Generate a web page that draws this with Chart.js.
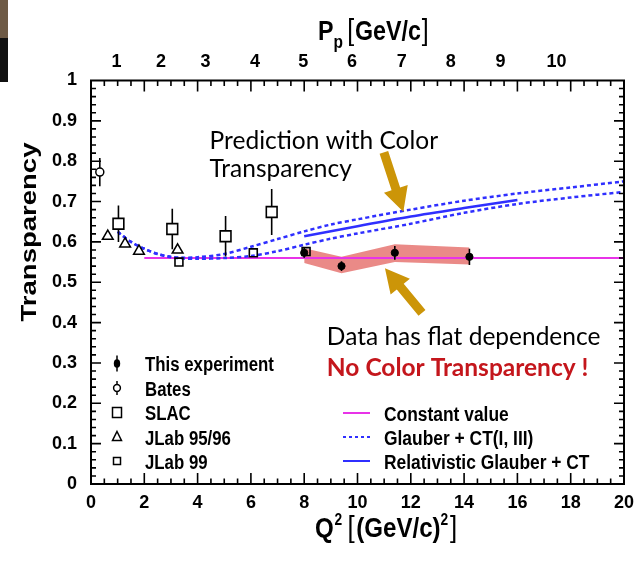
<!DOCTYPE html>
<html lang="en">
<head>
<meta charset="UTF-8">
<title>Transparency vs Q2</title>
<script src="https://cdn.jsdelivr.net/npm/chart.js"></script>
<style>
  html, body { margin: 0; padding: 0; background: #fff; }
  #wrap { position: relative; width: 644px; height: 561px; }
  .edge1 { position: absolute; left: 0; top: 0; width: 8px; height: 38px; background: #6e5a45; }
  .edge2 { position: absolute; left: 0; top: 38px; width: 8px; height: 44px; background: #111; }
</style>
</head>
<body>
<div id="wrap">
  <canvas id="chart" width="644" height="561"></canvas>
  <div class="edge1"></div>
  <div class="edge2"></div>
</div>
<script>
// values
const pTickLabels = ['1', '2', '3', '4', '5', '6', '7', '8', '9', '10'];
const pTickQ2 = [0.96, 2.63, 4.30, 6.15, 7.96, 9.79, 11.66, 13.50, 15.37, 17.47];

const expQ2 = [8.0, 9.4, 11.4, 14.2];
const expT = [0.573, 0.540, 0.573, 0.563];
const expErr = [0.012, 0.012, 0.017, 0.020];
const bandHigh = [0.584, 0.563, 0.594, 0.586];
const bandLow = [0.548, 0.522, 0.550, 0.544];

const batesQ2 = [0.33];
const batesT = [0.773];
const batesErr = [0.035];

const slacQ2 = [1.03, 3.05, 5.05, 6.78];
const slacT = [0.645, 0.632, 0.614, 0.674];
const slacErr = [0.045, 0.050, 0.050, 0.057];

const jlab96Q2 = [0.63, 1.28, 1.80, 3.25];
const jlab96T = [0.614, 0.595, 0.577, 0.580];

const jlab99Q2 = [3.30, 6.09, 8.07];
const jlab99T = [0.550, 0.573, 0.576];

const constQ2 = [2, 20];
const constT = [0.56, 0.56];

const glauberQ2 = [1.0, 1.5, 2.0, 2.5, 3.0, 3.5, 4.0, 5.0, 6.0, 7.0, 8.0, 9.0, 10, 12, 14, 16, 18, 20];
const glauberCT1 = [0.625, 0.600, 0.583, 0.570, 0.563, 0.561, 0.562, 0.570, 0.588, 0.607, 0.626, 0.643, 0.656, 0.680, 0.702, 0.720, 0.735, 0.750];
const glauberCT3 = [0.625, 0.600, 0.583, 0.570, 0.562, 0.559, 0.558, 0.560, 0.565, 0.577, 0.593, 0.608, 0.621, 0.645, 0.672, 0.694, 0.710, 0.724];

const relQ2 = [8, 10, 12, 14, 16];
const relT = [0.614, 0.639, 0.663, 0.684, 0.704];

const BLUE = '#2f2fff';
const MAGENTA = '#e833e8';
const GOLD = '#cc9508';
const TICKFONT = '"Liberation Sans", Arial, sans-serif';
const NOTEFONT = 'Lato, "Open Sans", sans-serif';

function pts(xs, ys) {
    return xs.map((x, i) => ({ x: x, y: ys[i] }));
}

const datasets = [
    { label: 'This experiment', data: pts(expQ2, expT), pointStyle: 'circle', pointRadius: 3.6,
      backgroundColor: '#000', borderColor: '#000', borderWidth: 1 },
    { label: 'JLab 99', data: pts(jlab99Q2, jlab99T), pointStyle: 'rect', pointRadius: 5.6,
      backgroundColor: 'rgba(0,0,0,0)', borderColor: '#000', borderWidth: 1.6 },
    { label: 'JLab 95/96', data: pts(jlab96Q2, jlab96T), pointStyle: 'triangle', pointRadius: 6.2,
      backgroundColor: 'rgba(0,0,0,0)', borderColor: '#000', borderWidth: 1.5 },
    { label: 'SLAC', data: pts(slacQ2, slacT), pointStyle: 'rect', pointRadius: 7.6,
      backgroundColor: 'rgba(0,0,0,0)', borderColor: '#000', borderWidth: 1.6 },
    { label: 'Bates', data: pts(batesQ2, batesT), pointStyle: 'circle', pointRadius: 4,
      backgroundColor: 'rgba(0,0,0,0)', borderColor: '#000', borderWidth: 1.5 },
    { label: 'Relativistic Glauber + CT', data: pts(relQ2, relT), showLine: true, pointRadius: 0,
      borderColor: BLUE, borderWidth: 2.5, tension: 0.3 },
    { label: 'Glauber + CT(I, III)', data: pts(glauberQ2, glauberCT1), showLine: true, pointRadius: 0,
      borderColor: BLUE, borderWidth: 2.5, borderDash: [4, 3], tension: 0.3 },
    { label: 'Glauber + CT(I, III) b', data: pts(glauberQ2, glauberCT3), showLine: true, pointRadius: 0,
      borderColor: BLUE, borderWidth: 2.5, borderDash: [4, 3], tension: 0.3 },
    { label: 'Constant value', data: pts(constQ2, constT), showLine: true, pointRadius: 0,
      borderColor: MAGENTA, borderWidth: 2 },
    { label: 'band high', data: pts(expQ2, bandHigh), showLine: true, pointRadius: 0,
      borderWidth: 0, borderColor: 'rgba(0,0,0,0)', backgroundColor: 'rgba(230,118,114,0.85)', fill: '+1' },
    { label: 'band low', data: pts(expQ2, bandLow), showLine: true, pointRadius: 0,
      borderWidth: 0, borderColor: 'rgba(0,0,0,0)', fill: false }
];

// error bars: dataset index, errors, gap left around the marker
const errorBars = [
    { ds: 0, err: expErr, gap: 0 },
    { ds: 3, err: slacErr, gap: 5.4 },
    { ds: 4, err: batesErr, gap: 4 }
];

const notes = [
    { text: 'Prediction with Color', q2: 4.45, t: 0.829, color: '#000', bold: false },
    { text: 'Transparency', q2: 4.45, t: 0.761, color: '#000', bold: false },
    { text: 'Data has flat dependence', q2: 8.85, t: 0.344, color: '#000', bold: false },
    { text: 'No Color Transparency !', q2: 8.85, t: 0.267, color: '#c4161c', bold: true }
];
const arrows = [
    { from: [10.99, 0.822], to: [11.72, 0.675] },
    { from: [12.42, 0.424], to: [11.03, 0.535] }
];

function drawArrow(ctx, x0, y0, x1, y1, shaft, headW, headL) {
    const ang = Math.atan2(y1 - y0, x1 - x0);
    const len = Math.hypot(x1 - x0, y1 - y0);
    ctx.save();
    ctx.translate(x0, y0);
    ctx.rotate(ang);
    ctx.beginPath();
    ctx.moveTo(0, -shaft / 2);
    ctx.lineTo(len - headL, -shaft / 2);
    ctx.lineTo(len - headL, -headW / 2);
    ctx.lineTo(len, 0);
    ctx.lineTo(len - headL, headW / 2);
    ctx.lineTo(len - headL, shaft / 2);
    ctx.lineTo(0, shaft / 2);
    ctx.closePath();
    ctx.fill();
    ctx.restore();
}

// draw a run of [text, font, dy, gap] pieces, squeezed horizontally by sx
function drawPieces(ctx, x, y, pieces, sx) {
    ctx.save();
    ctx.translate(x, y);
    ctx.scale(sx, 1);
    ctx.textBaseline = 'alphabetic';
    ctx.textAlign = 'left';
    let cx = 0;
    pieces.forEach(p => {
        ctx.font = p[1];
        ctx.fillText(p[0], cx, p[2]);
        cx += ctx.measureText(p[0]).width + (p[3] || 0);
    });
    ctx.restore();
}

const overlay = {
    id: 'overlay',
    afterDatasetsDraw(chart) {
        const ctx = chart.ctx;
        const xs = chart.scales.x, ys = chart.scales.y;
        ctx.save();
        ctx.strokeStyle = '#000';
        ctx.lineWidth = 1.6;
        errorBars.forEach(eb => {
            chart.data.datasets[eb.ds].data.forEach((p, i) => {
                const px = xs.getPixelForValue(p.x);
                const py = ys.getPixelForValue(p.y);
                const top = ys.getPixelForValue(p.y + eb.err[i]);
                const bot = ys.getPixelForValue(p.y - eb.err[i]);
                ctx.beginPath();
                ctx.moveTo(px, top); ctx.lineTo(px, py - eb.gap);
                ctx.moveTo(px, py + eb.gap); ctx.lineTo(px, bot);
                ctx.stroke();
            });
        });
        ctx.restore();
    },
    afterDraw(chart) {
        const ctx = chart.ctx;
        const a = chart.chartArea;
        const xs = chart.scales.x, ys = chart.scales.y;
        ctx.save();

        // frame with inward ticks
        ctx.strokeStyle = '#000';
        ctx.lineWidth = 2;
        ctx.strokeRect(a.left, a.top, a.right - a.left, a.bottom - a.top);
        ctx.lineWidth = 1.6;
        ctx.beginPath();
        for (let i = 1; i < 40; i++) {
            const px = xs.getPixelForValue(i * 0.5);
            const len = i % 4 === 0 ? 11 : 5.5;
            ctx.moveTo(px, a.bottom); ctx.lineTo(px, a.bottom - len);
            ctx.moveTo(px, a.top); ctx.lineTo(px, a.top + len);
        }
        for (let i = 1; i < 50; i++) {
            const py = ys.getPixelForValue(i * 0.02);
            const len = i % 5 === 0 ? 10 : 5;
            ctx.moveTo(a.left, py); ctx.lineTo(a.left + len, py);
            ctx.moveTo(a.right, py); ctx.lineTo(a.right - len, py);
        }
        ctx.stroke();

        // axis titles
        ctx.fillStyle = '#000';
        ctx.save();
        ctx.translate(36, 232);
        ctx.rotate(-Math.PI / 2);
        ctx.scale(1.25, 1);
        ctx.font = 'bold 22px ' + TICKFONT;
        ctx.textAlign = 'center';
        ctx.textBaseline = 'alphabetic';
        ctx.fillText('Transparency', 0, 0);
        ctx.restore();

        const b28 = 'bold 28px ' + TICKFONT;
        const s16 = 'bold 16px ' + TICKFONT;
        const r30 = '30px ' + TICKFONT;
        drawPieces(ctx, 315, 537, [
            ['Q', b28, 0, 1], ['2', s16, -12, 6], ['[', r30, 0, 2], ['(GeV/c)', b28, 0, 0],
            ['2', s16, -12, 2], [']', r30, 0]
        ], 0.86);
        drawPieces(ctx, 318, 40, [
            ['P', 'bold 27px ' + TICKFONT, 0, 0], ['p', 'bold 18px ' + TICKFONT, 8, 5],
            ['[', '29px ' + TICKFONT, 0, 1], ['GeV/c', 'bold 27px ' + TICKFONT, 0, 1],
            [']', '29px ' + TICKFONT, 0]
        ], 0.86);

        // legend, left block
        const lf = 'bold 20px ' + TICKFONT;
        const rows = [363.5, 388, 412.5, 437, 461];
        const mx = 117;
        ctx.lineWidth = 1.5;
        ctx.strokeStyle = '#000';
        ctx.fillStyle = '#000';
        ctx.beginPath();
        ctx.ellipse(mx, rows[0], 3.2, 4.3, 0, 0, Math.PI * 2);
        ctx.fill();
        ctx.beginPath();
        ctx.moveTo(mx, rows[0] - 8); ctx.lineTo(mx, rows[0] + 8);
        ctx.stroke();
        ctx.beginPath();
        ctx.arc(mx, rows[1], 3.4, 0, Math.PI * 2);
        ctx.moveTo(mx, rows[1] - 3.4); ctx.lineTo(mx, rows[1] - 7);
        ctx.moveTo(mx, rows[1] + 3.4); ctx.lineTo(mx, rows[1] + 7);
        ctx.stroke();
        ctx.strokeRect(mx - 4.5, rows[2] - 5, 9, 10);
        ctx.beginPath();
        ctx.moveTo(mx, rows[3] - 5.5); ctx.lineTo(mx + 4.5, rows[3] + 3.5); ctx.lineTo(mx - 4.5, rows[3] + 3.5);
        ctx.closePath();
        ctx.stroke();
        ctx.strokeRect(mx - 3.5, rows[4] - 3.5, 7, 7);
        ['This experiment', 'Bates', 'SLAC', 'JLab 95/96', 'JLab 99'].forEach((t, i) => {
            drawPieces(ctx, 145, rows[i] + 7.5, [[t, lf, 0]], 0.84);
        });

        // legend, right block
        const rrows = [413, 437, 461];
        const lines = [[MAGENTA, []], [BLUE, [3, 3]], [BLUE, []]];
        lines.forEach((l, i) => {
            ctx.strokeStyle = l[0];
            ctx.lineWidth = 2;
            ctx.setLineDash(l[1]);
            ctx.beginPath();
            ctx.moveTo(343, rrows[i]); ctx.lineTo(370, rrows[i]);
            ctx.stroke();
        });
        ctx.setLineDash([]);
        ctx.fillStyle = '#000';
        ['Constant value', 'Glauber + CT(I, III)', 'Relativistic Glauber + CT'].forEach((t, i) => {
            drawPieces(ctx, 384, rrows[i] + 7.5, [[t, lf, 0]], 0.87);
        });

        // annotations
        ctx.fillStyle = GOLD;
        arrows.forEach(ar => {
            drawArrow(ctx,
                xs.getPixelForValue(ar.from[0]), ys.getPixelForValue(ar.from[1]),
                xs.getPixelForValue(ar.to[0]), ys.getPixelForValue(ar.to[1]),
                9, 25, 24);
        });
        ctx.textAlign = 'left';
        ctx.textBaseline = 'alphabetic';
        notes.forEach(n => {
            ctx.fillStyle = n.color;
            ctx.font = (n.bold ? 'bold ' : '') + '24.5px ' + NOTEFONT;
            ctx.fillText(n.text, xs.getPixelForValue(n.q2), ys.getPixelForValue(n.t));
        });
        ctx.restore();
    }
};

const chart = new Chart(document.getElementById('chart').getContext('2d'), {
    type: 'scatter',
    data: { datasets: datasets },
    options: {
        responsive: false,
        animation: false,
        devicePixelRatio: 1,
        layout: { autoPadding: false, padding: { right: 20, left: 0, top: 0, bottom: 0 } },
        plugins: { legend: { display: false }, tooltip: { enabled: false } },
        scales: {
            x: {
                type: 'linear', position: 'bottom', min: 0, max: 20,
                grid: { display: false, drawTicks: false }, border: { display: false },
                ticks: { stepSize: 2, color: '#000', padding: 8, maxRotation: 0,
                         font: { family: TICKFONT, weight: 'bold', size: 18 } },
                afterFit: s => { s.height = 77; }
            },
            xTop: {
                type: 'linear', position: 'top', min: 0, max: 20,
                grid: { display: false, drawTicks: false }, border: { display: false },
                afterBuildTicks: s => { s.ticks = pTickQ2.map(v => ({ value: v })); },
                ticks: { autoSkip: false, color: '#000', padding: 8, maxRotation: 0,
                         callback: (v, i) => pTickLabels[i],
                         font: { family: TICKFONT, weight: 'bold', size: 18 } },
                afterFit: s => { s.height = 80.5; }
            },
            y: {
                type: 'linear', position: 'left', min: 0, max: 1,
                grid: { display: false, drawTicks: false }, border: { display: false },
                ticks: { stepSize: 0.1, color: '#000', padding: 14,
                         callback: v => String(Number(v.toFixed(1))),
                         font: { family: TICKFONT, weight: 'bold', size: 18 } },
                afterFit: s => { s.width = 91; }
            }
        }
    },
    plugins: [overlay]
});
</script>
</body>
</html>
